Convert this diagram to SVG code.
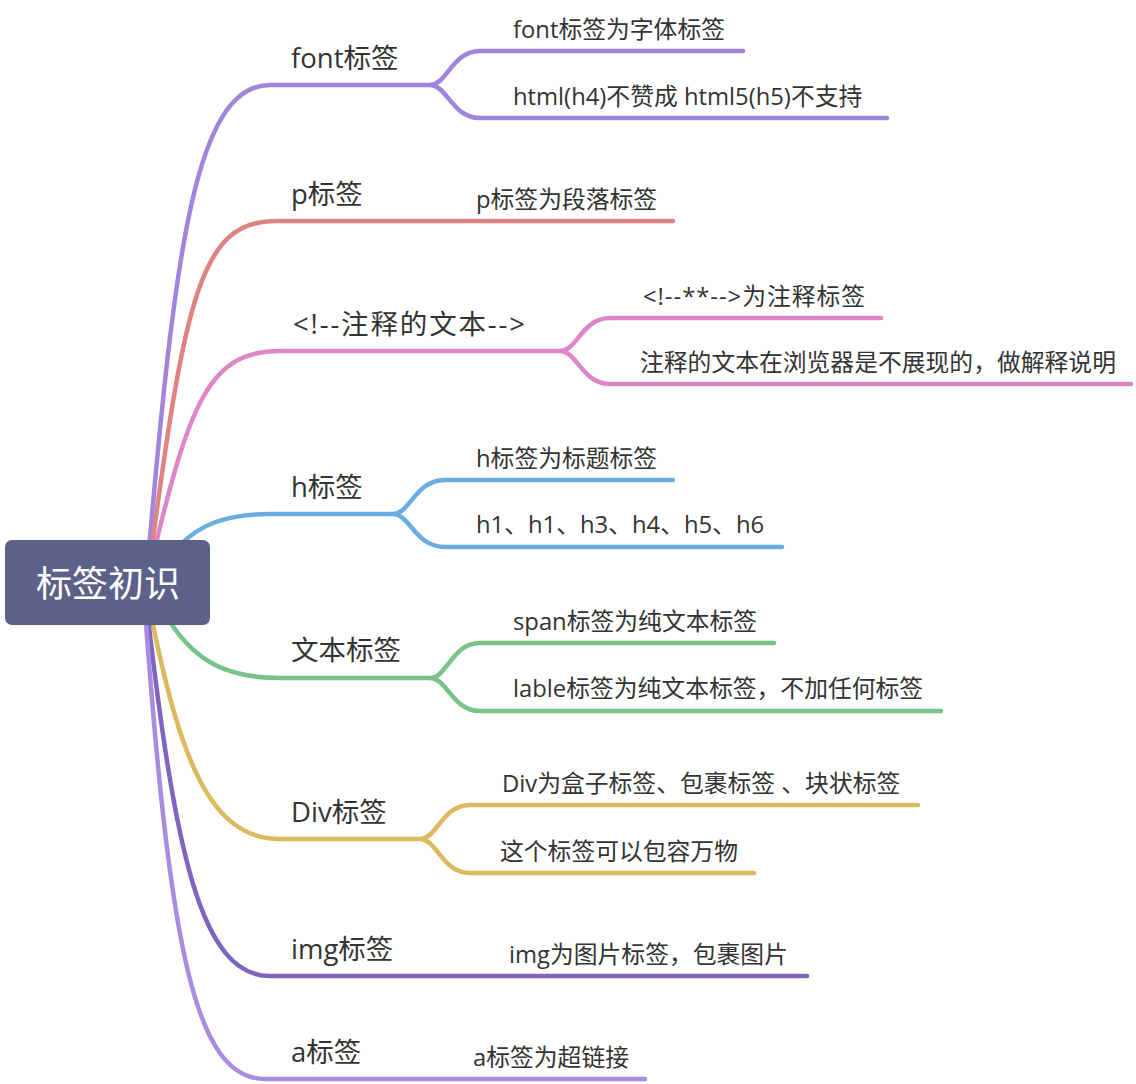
<svg xmlns="http://www.w3.org/2000/svg" width="1136" height="1084" viewBox="0 0 1136 1084">
<style>
.c{fill:none;stroke-width:4.5;stroke-linecap:round}
.t1{font-family:"Open Sans","Noto Sans CJK SC",sans-serif;font-size:27.5px;fill:#333}
.t2{font-family:"Open Sans","Noto Sans CJK SC",sans-serif;font-size:23.8px;fill:#333}
.r{font-family:"Noto Sans CJK SC","Noto Sans",sans-serif;font-size:36px;fill:#fff}
</style>
<rect width="1136" height="1084" fill="#fff"/>
<g id="connectors">
<path class="c" stroke="#a184dc" d="M148 560 C175 250 195 85 270 85 H430 C447 85 452 51 480 51 H743 M430 85 C447 85 452 118 480 118 H887"/>
<path class="c" stroke="#e08281" d="M150 560 C185 300 200 221 275 221 H673"/>
<path class="c" stroke="#dd87c9" d="M152 560 C190 400 210 351 280 351 H560 C577 351 582 318 610 318 H881 M560 351 C577 351 582 384 610 384 H1131"/>
<path class="c" stroke="#69aee1" d="M180 545 C200 525 225 514 270 514 H393 C410 514 415 480 445 480 H673 M393 514 C410 514 415 547 445 547 H782"/>
<path class="c" stroke="#78c488" d="M170 622 C195 660 225 678 280 678 H430 C447 678 452 643 480 643 H774 M430 678 C447 678 452 711 480 711 H941"/>
<path class="c" stroke="#ddb95e" d="M150 610 C180 760 210 839 280 839 H420 C437 839 442 805 470 805 H918 M420 839 C437 839 442 873 470 873 H754"/>
<path class="c" stroke="#7f65c0" d="M147 610 C175 850 200 976 270 976 H807"/>
<path class="c" stroke="#a98be0" d="M145 610 C170 950 195 1079 265 1079 H645"/>
</g>
<g id="root">
<rect x="5" y="540" width="205" height="85" rx="7" fill="#5b6188"/>
<text class="r" x="108" y="597" text-anchor="middle">标签初识</text>
</g>
<g id="n-font"><text class="t1" x="291" y="68">font标签</text></g>
<g id="n-font-1"><text class="t2" x="513" y="38">font标签为字体标签</text></g>
<g id="n-font-2"><text class="t2" x="513" y="105">html(h4)不赞成 html5(h5)不支持</text></g>
<g id="n-p"><text class="t1" x="291" y="204">p标签</text></g>
<g id="n-p-1"><text class="t2" x="476" y="208">p标签为段落标签</text></g>
<g id="n-comment"><text class="t1" x="293" y="334" textLength="232" lengthAdjust="spacing">&lt;!--注释的文本--&gt;</text></g>
<g id="n-comment-1"><text class="t2" x="643" y="305" textLength="222" lengthAdjust="spacing">&lt;!--**--&gt;为注释标签</text></g>
<g id="n-comment-2"><text class="t2" x="640" y="371">注释的文本在浏览器是不展现的，做解释说明</text></g>
<g id="n-h"><text class="t1" x="291" y="497">h标签</text></g>
<g id="n-h-1"><text class="t2" x="476" y="467">h标签为标题标签</text></g>
<g id="n-h-2"><text class="t2" x="476" y="533">h1、h1、h3、h4、h5、h6</text></g>
<g id="n-text"><text class="t1" x="291" y="660">文本标签</text></g>
<g id="n-text-1"><text class="t2" x="513" y="630">span标签为纯文本标签</text></g>
<g id="n-text-2"><text class="t2" x="513" y="697">lable标签为纯文本标签，不加任何标签</text></g>
<g id="n-div"><text class="t1" x="291" y="822">Div标签</text></g>
<g id="n-div-1"><text class="t2" x="502" y="792">Div为盒子标签、包裹标签 、块状标签</text></g>
<g id="n-div-2"><text class="t2" x="500" y="860">这个标签可以包容万物</text></g>
<g id="n-img"><text class="t1" x="291" y="959">img标签</text></g>
<g id="n-img-1"><text class="t2" x="509" y="963">img为图片标签，包裹图片</text></g>
<g id="n-a"><text class="t1" x="291" y="1062">a标签</text></g>
<g id="n-a-1"><text class="t2" x="473" y="1066">a标签为超链接</text></g>
</svg>
